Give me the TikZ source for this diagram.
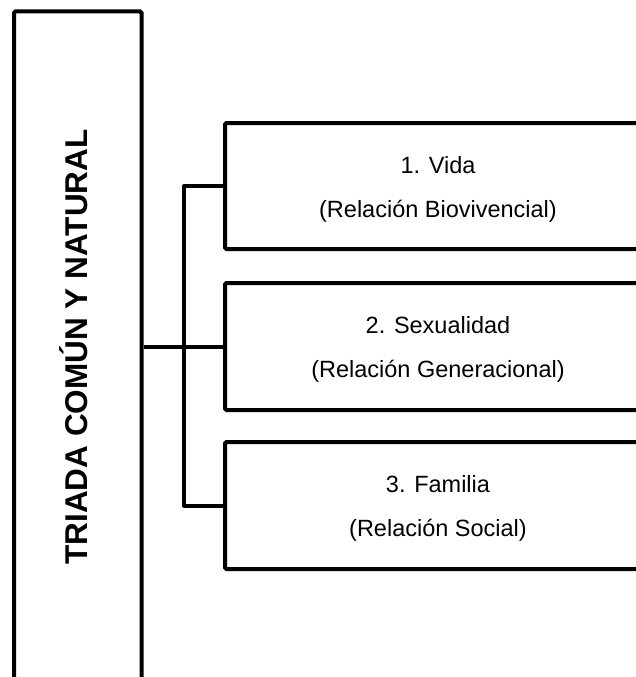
\documentclass[tikz,border=0pt]{standalone}
\usepackage{fontspec}
\setmainfont{Liberation Sans}
\begin{document}
\begin{tikzpicture}[x=1pt,y=-1pt,
  box/.style={draw=black,line width=4pt,rounded corners=1.5pt,inner sep=0pt},
  conn/.style={draw=black,line width=4pt,line join=round},
  lbl/.style={font=\fontsize{23.5}{28}\selectfont,anchor=base,inner sep=0pt},
  ttl/.style={font=\fontsize{31.5}{37}\selectfont\bfseries,rotate=90,inner sep=0pt,text height=22.5pt,text depth=0pt}]
\useasboundingbox (0,0) rectangle (636,677);
\clip (0,0) rectangle (636,677);
% left box (open past the bottom of the page)
\node[box,minimum width=127.5pt,minimum height=710pt] (L) at (77.75,366.5) {};
\node[ttl] (title) at (76.5,347) {TRIADA COMÚN Y NATURAL};
% right boxes (open past the right edge)
\node[box,minimum width=435pt,minimum height=126pt] (b1) at (442.5,186) {};
\node[box,minimum width=435pt,minimum height=127pt] (b2) at (442.5,346.5) {};
\node[box,minimum width=435pt,minimum height=127pt] (b3) at (442.5,505.5) {};
\node[lbl] (t1a) at (438,173) {1. Vida};
\node[lbl] (t1b) at (438,217) {(Relación Biovivencial)};
\node[lbl] (t2a) at (438,333.5) {2. Sexualidad};
\node[lbl] (t2b) at (438,377.5) {(Relación Generacional)};
\node[lbl] (t3a) at (438,492.5) {3. Familia};
\node[lbl] (t3b) at (438,536.5) {(Relación Social)};
% connectors
\coordinate (j) at (184,346.5);
\draw[conn] (L.east |- b2.west) -- (b2.west);
\draw[conn] (b1.west) -- (b1.west -| j) -- (b3.west -| j) -- (b3.west);
\end{tikzpicture}
\end{document}
